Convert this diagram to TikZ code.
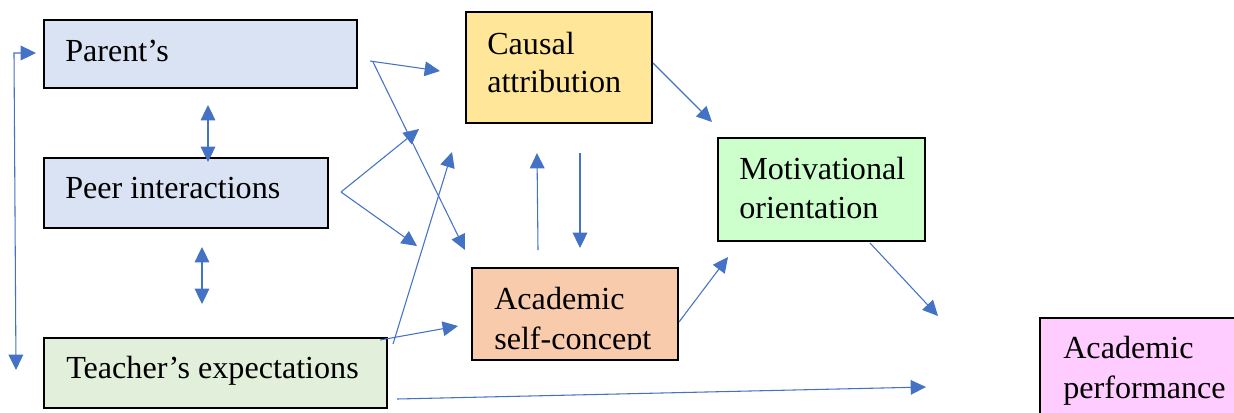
\documentclass[tikz,border=0pt]{standalone}
\usepackage{fontspec}
\setmainfont{Liberation Serif}
\usetikzlibrary{arrows.meta,fit}
\definecolor{pblue}{HTML}{DAE3F3}
\definecolor{tgreen}{HTML}{E2EFDA}
\definecolor{cyellow}{HTML}{FFE699}
\definecolor{aorange}{HTML}{F8CBAD}
\definecolor{mgreen}{HTML}{CCFFCC}
\definecolor{ppink}{HTML}{FFCCFF}
\definecolor{arrblue}{HTML}{4472C4}
\tikzset{
  box/.style={draw=black, line width=1.1pt, inner sep=0pt, rectangle},
  lbl/.style={anchor=base west, inner sep=0pt, font=\fontsize{24.1}{29}\selectfont},
  arr/.style={draw=arrblue, line width=0.8pt, -{Triangle[length=11.5pt,width=11pt]}},
  darr/.style={draw=arrblue, line width=0.8pt, {Triangle[length=11.5pt,width=11pt]}-{Triangle[length=11.5pt,width=11pt]}}
}
\begin{document}
\begin{tikzpicture}[x=0.75pt,y=-0.75pt]
\clip (0,0) rectangle (1234,412);
\fill[white] (0,0) rectangle (1234,412);
% boxes
\node[box, fill=pblue,   fit={(44,20)(357,88)}]   (par) {};
\node[box, fill=pblue,   fit={(44,158)(328,228)}] (peer) {};
\node[box, fill=tgreen,  fit={(44,338)(387,408)}] (tea) {};
\node[box, fill=cyellow, fit={(466,12)(652,123)}] (cau) {};
\node[box, fill=aorange, fit={(472,268)(678,360)}] (asc) {};
\node[box, fill=mgreen,  fit={(718,138)(925,241)}] (mot) {};
\node[box, fill=ppink,   fit={(1040,318)(1250,430)}] (perf) {};
% labels
\node[lbl] (tpar) at (65,61) {Parent’s};
\node[lbl] (tpeer) at (65,198) {Peer interactions};
\node[lbl] (ttea) at (66,378) {Teacher’s expectations};
\node[lbl] (tcau1) at (487,54) {Causal};
\node[lbl] (tcau2) at (487,92) {attribution};
\begin{scope}
\clip (473,269) rectangle (677,349.5);
\node[lbl] (tasc1) at (494,309) {Academic};
\node[lbl] (tasc2) at (494,349) {self-concept};
\end{scope}
\node[lbl] (tmot1) at (739,179) {Motivational};
\node[lbl] (tmot2) at (739,218) {orientation};
\node[lbl] (tperf1) at (1063,358) {Academic};
\node[lbl] (tperf2) at (1063,398) {performance};
% connector end points
\coordinate (lpA) at (36,53);
\coordinate (lpB) at (14,53);
\coordinate (lpC) at (16,370);
\coordinate (pp1) at (208,105);
\coordinate (pp2) at (208,162);
\coordinate (pt1) at (202,247);
\coordinate (pt2) at (202,304);
\coordinate (parS) at (370,61);
\coordinate (parC) at (440,71);
\coordinate (parS2) at (373,62);
\coordinate (parA) at (465,250);
\coordinate (peerS) at (341,192);
\coordinate (peerC) at (419,129);
\coordinate (peerA) at (417,246);
\coordinate (teaS1) at (393,344);
\coordinate (teaC) at (452,152);
\coordinate (teaS2) at (380,340);
\coordinate (teaA) at (458,326);
\coordinate (ascU1) at (538,250);
\coordinate (ascU2) at (537,153);
\coordinate (cauD1) at (580,153);
\coordinate (cauD2) at (580,248);
\coordinate (cauS) at (653,63);
\coordinate (motT1) at (712,122);
\coordinate (ascS) at (679,322);
\coordinate (motT2) at (728,257);
\coordinate (motS) at (870,243);
\coordinate (perfT1) at (938,316);
\coordinate (teaS3) at (397,399);
\coordinate (perfT2) at (926,387);
% connectors
\draw[darr] (lpA) -- (lpB) -- (lpC);
\draw[darr] (pp1) -- (pp2);
\draw[darr] (pt1) -- (pt2);
\draw[arr] (parS) -- (parC);
\draw[arr] (parS2) -- (parA);
\draw[arr] (peerS) -- (peerC);
\draw[arr] (peerS) -- (peerA);
\draw[arr] (teaS1) -- (teaC);
\draw[arr] (teaS2) -- (teaA);
\draw[arr] (ascU1) -- (ascU2);
\draw[arr] (cauD1) -- (cauD2);
\draw[arr] (cauS) -- (motT1);
\draw[arr] (ascS) -- (motT2);
\draw[arr] (motS) -- (perfT1);
\draw[arr] (teaS3) -- (perfT2);
\end{tikzpicture}
\end{document}
